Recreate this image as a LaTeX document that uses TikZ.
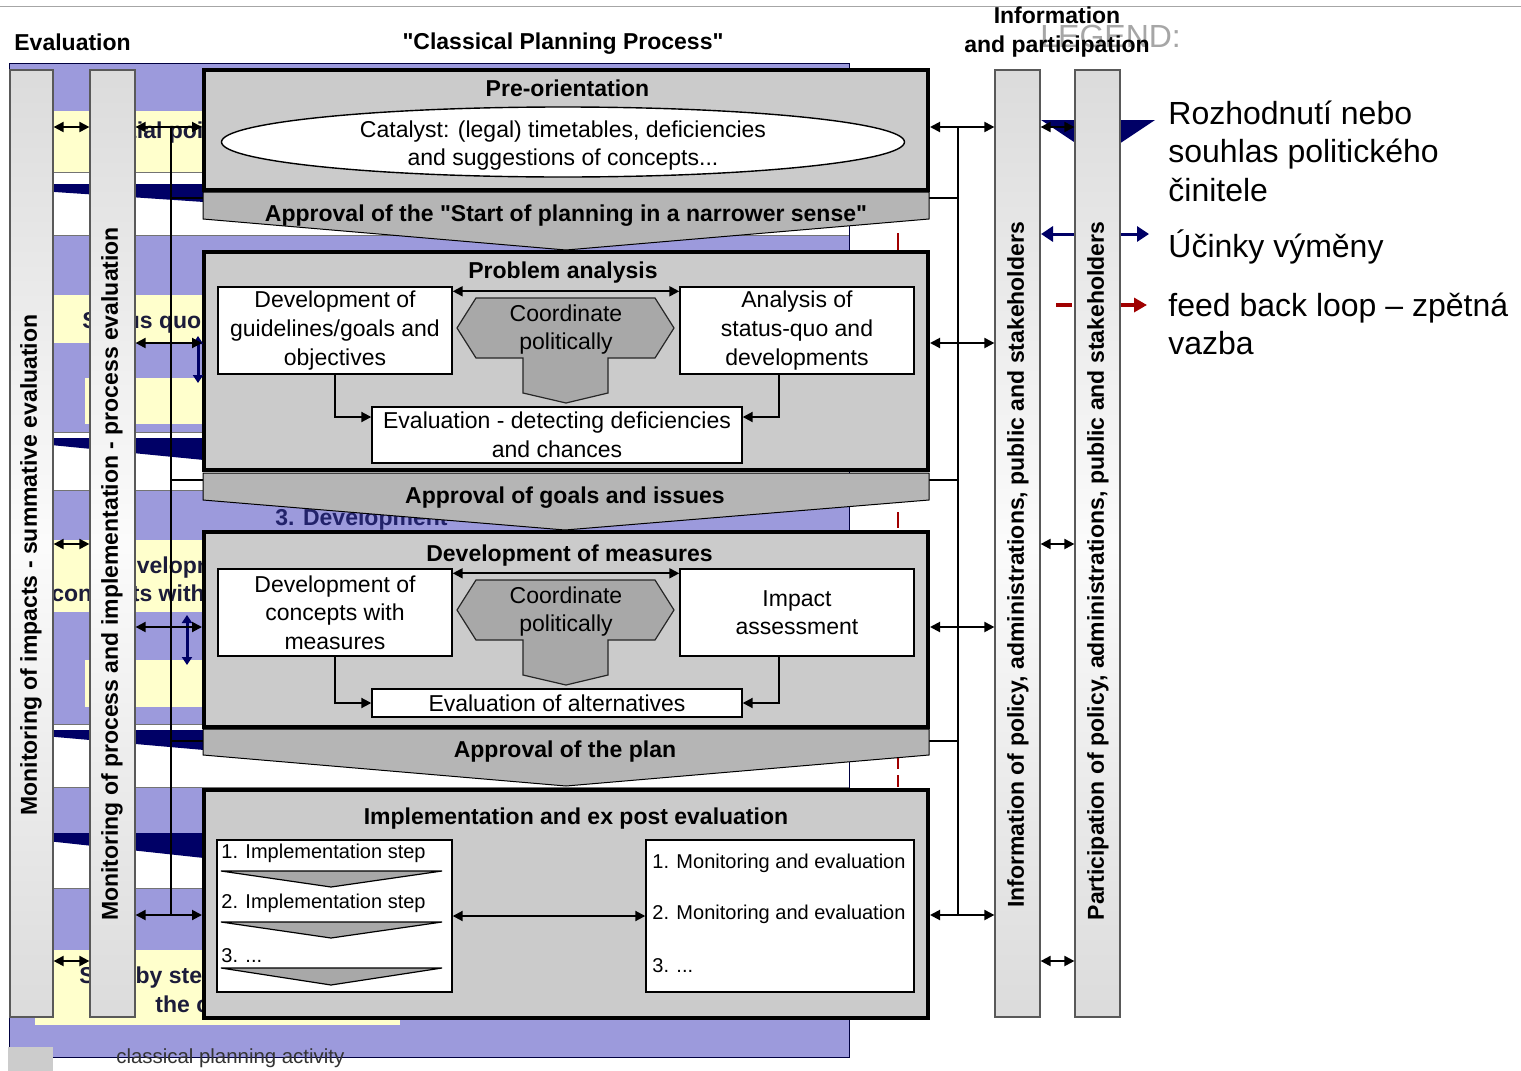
\documentclass[tikz,border=0pt]{standalone}
\usepackage{fontspec}
\setmainfont{Liberation Sans}
\newfontfamily\plainsans{Liberation Sans}
\usetikzlibrary{arrows.meta,shapes.geometric,calc}

\definecolor{bgblue}{HTML}{9C9ADC}
\definecolor{bgyellow}{HTML}{FFFFCC}
\definecolor{navy}{HTML}{000066}
\definecolor{stagegray}{HTML}{CBCBCB}
\definecolor{apprgray}{HTML}{B5B5B5}
\definecolor{coordgray}{HTML}{A8A8A8}
\definecolor{fbred}{HTML}{A00000}
\definecolor{bgtext}{HTML}{1C1C3A}
\definecolor{bgnavytext}{HTML}{22226A}

\newcommand\fsMain{\fontsize{11.5}{14.3}\selectfont}
\newcommand\fsSmall{\fontsize{10}{12}\selectfont}
\newcommand\fsLegend{\fontsize{16}{19.25}\selectfont}

\begin{document}
\begin{tikzpicture}[x=0.5pt,y=-0.5pt,
  every node/.style={inner sep=0pt},
  stagebox/.style={draw=black,line width=2pt,fill=stagegray},
  whitebox/.style={draw=black,line width=0.7pt,fill=white,align=center,font=\fsMain},
  barbox/.style={draw=black!65,line width=0.6pt,top color=gray!28,bottom color=gray!28,middle color=gray!3},
  apprshape/.style={draw=black,line width=0.5pt,fill=apprgray},
  coordshape/.style={draw=black!85,line width=0.6pt,fill=coordgray},
  chevron/.style={draw=black,line width=0.6pt,fill=coordgray},
  dblarrow/.style={line width=1pt,{Triangle[length=5pt,width=5pt]}-{Triangle[length=5pt,width=5pt]}},
  onearrow/.style={line width=1pt,-{Triangle[length=5pt,width=5pt]}},
  plainline/.style={line width=1pt},
  title/.style={font=\fsMain\bfseries,yshift=-1.5pt},
  bartext/.style={font=\fsMain\bfseries,rotate=90},
  bgword/.style={font=\fsMain\bfseries,text=bgtext,anchor=west,yshift=-1.2pt},
  plaintext/.style={font=\fsMain,align=center,yshift=-1pt},
]
\useasboundingbox (0,0) rectangle (1521,1071);
\fill[white] (0,0) rectangle (1521,1071);
\draw[gray!70,line width=0.5pt] (0,6) -- (1521,6);

% ---------- background: planning phases ----------
\fill[bgblue] (9,63) rectangle (849,1057);
\foreach \ya/\yb in {172/235,432/490,724/787,833/888}{
  \fill[white] (10,\ya) rectangle (849,\yb);
  \draw[black!55,line width=0.4pt] (10,\ya) -- (849,\ya) (10,\yb) -- (849,\yb);
}
\fill[navy] (10,184) -- (204,184) -- (204,202) -- (10,189) -- cycle;
\fill[navy] (10,438) -- (204,438) -- (204,460) -- (10,441) -- cycle;
\fill[navy] (10,730) -- (204,730) -- (204,750) -- (10,733) -- cycle;
\fill[navy] (10,833) -- (204,833) -- (204,858) -- (10,837) -- cycle;

\fill[bgyellow] (10,111) rectangle (849,172);
\fill[bgyellow] (10,295) rectangle (849,343);
\fill[bgyellow] (85,378) rectangle (849,424);
\fill[bgyellow] (10,540) rectangle (849,612);
\fill[bgyellow] (85,660) rectangle (849,707);
\fill[bgyellow] (35,950) rectangle (400,1025);

\node[bgword] (bgInit) at (102,130) {Initial point};
\node[bgword] (bgStatus) at (82,320) {Status quo};
\node[bgword] (bgDevA) at (107,565) {Development of};
\node[bgword] (bgDevB) at (51,593) {concepts with};
\node[bgword] (bgStepA) at (79,975) {Step by step};
\node[bgword] (bgStepB) at (155,1002) {the c};
\node[bgword,text=bgnavytext] (bgThree) at (275,517) {3. Development};

\draw[black!75!blue,line width=0.5pt] (9,63) rectangle (849,1057);

% feedback loop marks
\draw[fbred,line width=1.2pt] (898,233) -- (898,250);
\draw[fbred,line width=1.2pt] (898,512) -- (898,528);
\draw[fbred,line width=1.2pt,dash pattern=on 6pt off 3pt] (898,757) -- (898,790);

% ---------- legend symbols (partly behind the participation bar) ----------
\fill[navy] (1041,120) -- (1155,120) -- (1098,158) -- cycle;
\coordinate (legNavyL) at (1041,234);
\coordinate (legNavyR) at (1149,234);
\draw[navy,line width=1.5pt,{Triangle[length=6pt,width=7.5pt]}-{Triangle[length=6pt,width=7.5pt]}] (legNavyL) -- (legNavyR);
\coordinate (legRedL) at (1056,305);
\coordinate (legRedR) at (1147,305);
\draw[fbred,line width=2pt,dash pattern=on 8pt off 23pt,-{Triangle[length=6.5pt,width=7pt]}] (legRedL) -- (legRedR);

% ---------- vertical bars ----------
\node[barbox,minimum width=21.5pt,minimum height=473.5pt] (bar1) at (31.5,543.5) {};
\node[barbox,minimum width=22.5pt,minimum height=473.5pt] (bar2) at (112.5,543.5) {};
\node[barbox,minimum width=22.5pt,minimum height=473.5pt] (bar3) at (1017.5,543.5) {};
\node[barbox,minimum width=22.5pt,minimum height=473.5pt] (bar4) at (1097.5,543.5) {};
\node[bartext] (bar1txt) at (31,565) {Monitoring of impacts - summative evaluation};
\node[bartext] (bar2txt) at (112,574) {Monitoring of process and implementation - process evaluation};
\node[bartext] (bar3txt) at (1018,565) {Information of policy, administrations, public and stakeholders};
\node[bartext] (bar4txt) at (1098,571) {Participation of policy, administrations, public and stakeholders};

% ---------- stage boxes ----------
\node[stagebox,minimum width=362pt,minimum height=60pt] (box1) at (566,130) {};
\node[stagebox,minimum width=362pt,minimum height=109pt] (box2) at (566,361) {};
\node[stagebox,minimum width=362pt,minimum height=97.5pt] (box3) at (566,629.5) {};
\node[stagebox,minimum width=362pt,minimum height=114pt] (box4) at (566,904) {};

% ---------- levels, buses and connectors ----------
\coordinate (lvA) at (0,127);
\coordinate (lvB) at (0,343);
\coordinate (lvC) at (0,627);
\coordinate (lvD) at (0,915);
\coordinate (lxA) at (0,544);
\coordinate (lxB) at (0,961);
\coordinate (busL) at (171,0);
\coordinate (busR) at (958,0);
\coordinate (apAW) at (203,198);
\coordinate (apAE) at (929,198);
\coordinate (apBW) at (203,480);
\coordinate (apBE) at (929,480);
\coordinate (apCW) at (203,741);
\coordinate (apCE) at (929,741);

\draw[plainline] (busL |- lvA) -- (busL |- lvD);
\draw[plainline] (busR |- lvA) -- (busR |- lvD);
\draw[plainline] (busL |- apAW) -- (apAW);
\draw[plainline] (busL |- apBW) -- (apBW);
\draw[plainline] (busL |- apCW) -- (apCW);
\draw[plainline] (apAE) -- (busR |- apAE);
\draw[plainline] (apBE) -- (busR |- apBE);
\draw[plainline] (apCE) -- (busR |- apCE);

\coordinate (nvA1) at (198,336);
\coordinate (nvA2) at (198,383);
\coordinate (nvB1) at (187,615);
\coordinate (nvB2) at (187,665);
\draw[navy,line width=1.5pt,{Triangle[length=4pt,width=5pt]}-{Triangle[length=4pt,width=5pt]}] (nvA1) -- (nvA2);
\draw[navy,line width=1.5pt,{Triangle[length=4pt,width=5pt]}-{Triangle[length=4pt,width=5pt]}] (nvB1) -- (nvB2);

\draw[dblarrow] (bar2.east |- lvA) -- (box1.west |- lvA);
\draw[dblarrow] (bar2.east |- lvB) -- (box2.west |- lvB);
\draw[dblarrow] (bar2.east |- lvC) -- (box3.west |- lvC);
\draw[dblarrow] (bar2.east |- lvD) -- (box4.west |- lvD);
\draw[dblarrow] (bar1.east |- lvA) -- (bar2.west |- lvA);
\draw[dblarrow] (bar1.east |- lxA) -- (bar2.west |- lxA);
\draw[dblarrow] (bar1.east |- lxB) -- (bar2.west |- lxB);

\draw[dblarrow] (box1.east |- lvA) -- (bar3.west |- lvA);
\draw[dblarrow] (box2.east |- lvB) -- (bar3.west |- lvB);
\draw[dblarrow] (box3.east |- lvC) -- (bar3.west |- lvC);
\draw[dblarrow] (box4.east |- lvD) -- (bar3.west |- lvD);
\draw[dblarrow] (bar3.east |- lvA) -- (bar4.west |- lvA);
\draw[dblarrow] (bar3.east |- lxA) -- (bar4.west |- lxA);
\draw[dblarrow] (bar3.east |- lxB) -- (bar4.west |- lxB);

% ---------- approval arrows ----------
\filldraw[apprshape] (203,192) -- (929,192) -- (929,219) -- (566,250) -- (203,219) -- cycle;
\filldraw[apprshape] (203,473) -- (929,473) -- (929,500) -- (565,530) -- (203,500) -- cycle;
\filldraw[apprshape] (203,729) -- (929,729) -- (929,755) -- (566,786) -- (203,755) -- cycle;
\node[title,font=\plainsans\fsMain\bfseries] (apprA) at (566,213) {Approval of the "Start of planning in a narrower sense"};
\node[title] (apprB) at (565,495) {Approval of goals and issues};
\node[title] (apprC) at (565,749) {Approval of the plan};

% ---------- 1: pre-orientation ----------
\node[title] (t1) at (567.5,85) {Pre-orientation};
\node[ellipse,draw=black,line width=0.7pt,fill=white,minimum width=341.5pt,minimum height=35pt] (cat) at (563,142) {};
\node[plaintext] (catTxt) at (563,143.5) {Catalyst: (legal) timetables, deficiencies\\and suggestions of concepts...};

% ---------- 2: problem analysis ----------
\node[title] (t2) at (563,270) {Problem analysis};
\node[whitebox,minimum width=117pt,minimum height=43.5pt] (pLeft) at (335,330.5) {Development of\\guidelines/goals and\\objectives};
\node[whitebox,minimum width=117pt,minimum height=43.5pt] (pRight) at (797,330.5) {Analysis of\\status-quo and\\developments};
\node[whitebox,minimum width=185pt,minimum height=28pt] (pEval) at (557,435) {Evaluation - detecting deficiencies\\and chances};
\filldraw[coordshape] (476,298) -- (655,298) -- (674,328) -- (655,358) -- (608,358) -- (608,393) -- (566,403) -- (523,393) -- (523,358) -- (476,358) -- (457,328) -- cycle;
\node[plaintext] (pCoord) at (566,327.5) {Coordinate\\politically};
\draw[dblarrow] ($(pLeft.north east)+(0,5)$) -- ($(pRight.north west)+(0,5)$);
\draw[onearrow] (pLeft.south) |- ($(pEval.west)+(0,-18)$);
\draw[onearrow] ($(pRight.south)+(-18,0)$) |- ($(pEval.east)+(0,-18)$);

% ---------- 3: development of measures ----------
\node[title] (t3) at (569.5,553) {Development of measures};
\node[whitebox,minimum width=117pt,minimum height=43.5pt] (mLeft) at (335,612.5) {Development of\\concepts with\\measures};
\node[whitebox,minimum width=117pt,minimum height=43.5pt] (mRight) at (797,612.5) {Impact\\assessment};
\node[whitebox,minimum width=185pt,minimum height=14pt] (mEval) at (557,703) {Evaluation of alternatives};
\begin{scope}[shift={(0,282)}]
\filldraw[coordshape] (476,298) -- (655,298) -- (674,328) -- (655,358) -- (608,358) -- (608,393) -- (566,403) -- (523,393) -- (523,358) -- (476,358) -- (457,328) -- cycle;
\node[plaintext] (mCoord) at (566,327.5) {Coordinate\\politically};
\end{scope}
\draw[dblarrow] ($(mLeft.north east)+(0,5)$) -- ($(mRight.north west)+(0,5)$);
\draw[onearrow] (mLeft.south) |- (mEval.west);
\draw[onearrow] ($(mRight.south)+(-18,0)$) |- (mEval.east);

% ---------- 4: implementation ----------
\node[title] (t4) at (576,816) {Implementation and ex post evaluation};
\node[whitebox,minimum width=117.5pt,minimum height=76pt] (iLeft) at (334.5,916) {};
\node[whitebox,minimum width=134pt,minimum height=76pt] (iRight) at (780,916) {};
\node[font=\fsSmall,anchor=west] (iStepA) at (221,853) {1. Implementation step};
\node[font=\fsSmall,anchor=west] (iStepB) at (221,903) {2. Implementation step};
\node[font=\fsSmall,anchor=west] (iStepC) at (221,956) {3. ...};
\filldraw[chevron] (221,871) -- (442,871) -- (331,887) -- cycle;
\filldraw[chevron] (221,922) -- (442,922) -- (331,938) -- cycle;
\filldraw[chevron] (221,968) -- (442,968) -- (331,985) -- cycle;
\node[font=\fsSmall,anchor=west] (iMonA) at (652,863) {1. Monitoring and evaluation};
\node[font=\fsSmall,anchor=west] (iMonB) at (652,914) {2. Monitoring and evaluation};
\node[font=\fsSmall,anchor=west] (iMonC) at (652,966) {3. ...};
\draw[dblarrow] (iLeft.east) -- (iRight.west);

% ---------- headers ----------
\node[anchor=west,font=\fsLegend,text=gray!70] (legHead) at (1040,36) {LEGEND:};
\node[title,anchor=west] (hdEval) at (14,39) {Evaluation};
\node[title,font=\plainsans\fsMain\bfseries] (hdCPP) at (563,41) {"Classical Planning Process"};
\node[title,align=center] (hdInfo) at (1057,29) {Information\\and participation};

% ---------- legend texts ----------
\node[anchor=west,font=\fsLegend,align=left] (legA) at (1168,151) {Rozhodnutí nebo\\souhlas politického\\činitele};
\node[anchor=west,font=\fsLegend] (legB) at (1168,247) {Účinky výměny};
\node[anchor=west,font=\fsLegend,align=left] (legC) at (1168,324) {feed back loop – zpětná\\vazba};

% ---------- key for the grey boxes ----------
\node[fill=gray!40,minimum width=22.5pt,minimum height=12pt] (keySq) at (30.5,1059) {};
\node[anchor=west,font=\fontsize{10.2}{12}\selectfont,text=black!80] (keyTxt) at (116,1058) {classical planning activity};
\end{tikzpicture}
\end{document}
